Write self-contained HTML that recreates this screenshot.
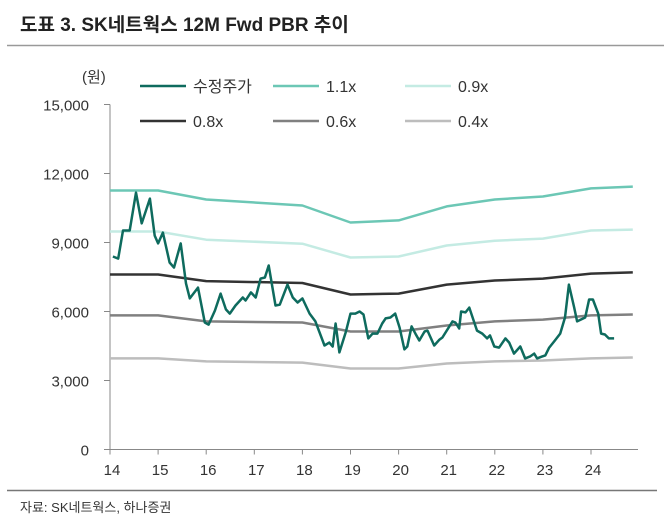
<!DOCTYPE html>
<html><head><meta charset="utf-8"><style>
body{margin:0;width:664px;height:527px;background:#fff;font-family:"Liberation Sans","Noto Sans CJK KR",sans-serif;overflow:hidden}
svg text{font-family:"Liberation Sans","Noto Sans CJK KR",sans-serif}
</style></head><body>
<svg width="664" height="527">
<text x="20" y="31" font-size="19" font-weight="bold" fill="#222">도표 3. SK네트웍스 12M Fwd PBR 추이</text>
<line x1="7" y1="45.5" x2="664" y2="45.5" stroke="#999" stroke-width="1.5"/>
<text x="82" y="82" font-size="15" fill="#333">(원)</text>
<g id="axes"></g>
<g id="series"></g>
<g id="legend"></g>
<line x1="7" y1="490.5" x2="657" y2="490.5" stroke="#777" stroke-width="1.5"/>
<text x="20" y="512" font-size="13" fill="#333">자료: SK네트웍스, 하나증권</text>
</svg>
<script>
const yTicks=[0,3000,6000,9000,12000,15000];
const yTickLabels=["0","3,000","6,000","9,000","12,000","15,000"];
const xTicks=[14,15,16,17,18,19,20,21,22,23,24];
const bandYears=[14,15,16,18,19,20,21,22,23,24,24.87];
const band11=[11260,11260,10870,10610,9870,9960,10570,10870,11000,11350,11430];
const band09=[9480,9480,9120,8950,8350,8390,8870,9080,9170,9520,9560];
const band08=[7610,7610,7320,7240,6740,6780,7170,7350,7430,7650,7700];
const band06=[5830,5830,5570,5520,5130,5130,5390,5570,5650,5830,5870];
const band04=[3960,3960,3830,3780,3520,3520,3740,3830,3870,3960,4000];
const priceYears=[14.06,14.17,14.27,14.41,14.54,14.66,14.83,14.93,15.0,15.10,15.24,15.33,15.47,15.58,15.66,15.83,15.97,16.05,16.18,16.30,16.41,16.49,16.61,16.76,16.82,16.93,17.03,17.13,17.22,17.30,17.44,17.53,17.69,17.80,17.90,18.0,18.15,18.27,18.46,18.56,18.63,18.69,18.77,18.90,19.0,19.10,19.19,19.27,19.37,19.46,19.56,19.66,19.73,19.83,19.93,20.02,20.12,20.18,20.27,20.35,20.43,20.54,20.60,20.74,20.85,20.91,21.12,21.18,21.26,21.30,21.39,21.47,21.63,21.74,21.84,21.90,21.99,22.09,22.22,22.30,22.40,22.53,22.63,22.73,22.82,22.88,22.98,23.05,23.13,23.25,23.36,23.46,23.54,23.65,23.71,23.88,23.96,24.04,24.15,24.21,24.29,24.37,24.48];
const priceValues=[8390,8300,9520,9520,11170,9830,10910,9300,8960,9430,8130,7910,8960,7220,6570,7040,5520,5430,6040,6780,6090,5910,6260,6610,6480,6830,6610,7430,7480,8000,6260,6300,7170,6610,6390,6570,5910,5570,4520,4650,4480,5480,4220,5090,5910,5910,6000,5870,4830,5040,5040,5480,5700,5740,5910,5300,4350,4480,5350,5040,4740,5130,5170,4520,4780,4870,5570,5520,5260,6000,5960,6170,5170,5040,4830,4960,4480,4430,4830,4650,4170,4480,3960,4040,4170,3960,4040,4090,4430,4740,5040,5740,7170,6170,5570,5740,6520,6520,5910,5040,5000,4830,4830];
const NS="http://www.w3.org/2000/svg";
const X=y=>110+(y-14)*48.1, Y=v=>449.5-v*0.023;
function mk(tag,attrs,parent){const e=document.createElementNS(NS,tag);for(const k in attrs)e.setAttribute(k,attrs[k]);parent.appendChild(e);return e;}
const ax=document.getElementById('axes');
let yl=mk('line',{x1:110,y1:Y(15000),x2:110,y2:Y(0),stroke:'#888','stroke-width':1},ax);


let xl=mk('line',{x1:104,y1:Y(0),x2:638,y2:Y(0),stroke:'#888','stroke-width':1},ax);


yTicks.forEach((v,i)=>{
 const t=mk('line',{x1:104,y1:Y(v),x2:110,y2:Y(v),stroke:'#888'},ax);
 
 
 const l=mk('text',{x:89,y:Y(v)+6,'font-size':15,fill:'#333','text-anchor':'end'},ax);l.textContent=yTickLabels[i];
 
 
});
xTicks.forEach(v=>{
 const t=mk('line',{x1:X(v),y1:Y(0),x2:X(v),y2:Y(0)+5,stroke:'#888'},ax);
 
 
 const l=mk('text',{x:X(v)+2,y:475,'font-size':15,fill:'#333','text-anchor':'middle'},ax);l.textContent=String(v);
 
 
});
const sg=document.getElementById('series');
function path(xs,vs,color,w,name){
 const d=xs.map((x,i)=>(i?'L':'M')+X(x).toFixed(1)+','+Y(vs[i]).toFixed(1)).join(' ');
 const p=mk('path',{d:d,fill:'none',stroke:color,'stroke-width':w,'stroke-linejoin':'round'},sg);
 
 
}
path(bandYears,band04,'#bdbdbd',2.5,'line-0-4x');
path(bandYears,band06,'#808080',2.5,'line-0-6x');
path(bandYears,band08,'#333333',2.5,'line-0-8x');
path(bandYears,band09,'#c4ebe3',2.5,'line-0-9x');
path(bandYears,band11,'#6cc7b5',2.5,'line-1-1x');
path(priceYears,priceValues,'#0e6b5e',2.5,'line-adjusted-price');
const lg=document.getElementById('legend');
const items=[["수정주가",'#0e6b5e',140,86,'legend-adjusted-price'],["1.1x",'#6cc7b5',273,86,'legend-1-1x'],["0.9x",'#c4ebe3',405,86,'legend-0-9x'],["0.8x",'#333333',140,121,'legend-0-8x'],["0.6x",'#808080',273,121,'legend-0-6x'],["0.4x",'#bdbdbd',405,121,'legend-0-4x']];
items.forEach(it=>{
 const g=mk('g',{},lg);
 
 
 mk('line',{x1:it[2],y1:it[3],x2:it[2]+46,y2:it[3],stroke:it[1],'stroke-width':2.5},g);
 const t=mk('text',{x:it[2]+53,y:it[3]+6,'font-size':16,fill:'#333'},g);t.textContent=it[0];
});
</script>
</body></html>
